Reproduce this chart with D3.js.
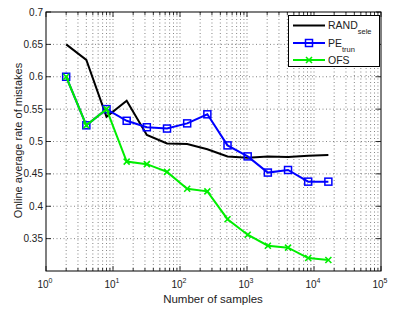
<!DOCTYPE html>
<html><head><meta charset="utf-8">
<script src="https://cdn.jsdelivr.net/npm/d3@7"></script>
<style>body{margin:0;background:#fff}svg{display:block}text{font-family:"Liberation Sans",Arial,sans-serif}</style>
</head><body><svg id="c" width="396" height="309"></svg>
<script>
const samples = [2,4,8,16,32,64,128,256,512,1024,2048,4096,8192,16384];
const randSele = [0.650,0.626,0.538,0.563,0.510,0.497,0.496,0.488,0.477,0.475,0.477,0.476,0.478,0.479];
const peTrun   = [0.600,0.525,0.550,0.532,0.522,0.520,0.528,0.542,0.494,0.477,0.452,0.456,0.438,0.438];
const ofs      = [0.600,0.525,0.550,0.469,0.465,0.453,0.427,0.423,0.380,0.356,0.339,0.336,0.320,0.317];
const yTicks = [0.35,0.4,0.45,0.5,0.55,0.6,0.65,0.7];
const xExps = [0,1,2,3,4,5];
const seriesNames = ["RAND","PE","OFS"];
const seriesSubs = ["sele","trun",""];

const svg = d3.select("#c");
const L=46,R=381,T=12,B=271;
const x = d3.scaleLog().domain([1,1e5]).range([L,R]);
const y = d3.scaleLinear().domain([0.3,0.7]).range([B,T]);

// grid
const minor=[];
for(let e=0;e<5;e++) for(let m=1;m<10;m++) minor.push(m*Math.pow(10,e));
minor.push(1e5);
const g = svg.append("g");
g.selectAll("line.vx").data(minor.filter(v=>v>1&&v<1e5)).join("line")
 .attr("x1",d=>x(d)).attr("x2",d=>x(d)).attr("y1",T).attr("y2",B)
 .attr("stroke","#666").attr("stroke-width",0.8).attr("stroke-dasharray","1,2.5");
g.selectAll("line.hy").data(yTicks.filter(v=>v<0.7)).join("line")
 .attr("x1",L).attr("x2",R).attr("y1",d=>y(d)).attr("y2",d=>y(d))
 .attr("stroke","#666").attr("stroke-width",0.8).attr("stroke-dasharray","1,2.5");

// ticks inside
const tk = svg.append("g").attr("stroke","#000").attr("stroke-width",0.8);
minor.forEach(v=>{
  const major = Math.abs(Math.log10(v)-Math.round(Math.log10(v)))<1e-9;
  const len = major?5:3;
  tk.append("line").attr("x1",x(v)).attr("x2",x(v)).attr("y1",B).attr("y2",B-len);
  tk.append("line").attr("x1",x(v)).attr("x2",x(v)).attr("y1",T).attr("y2",T+len);
});
yTicks.forEach(v=>{
  tk.append("line").attr("x1",L).attr("x2",L+5).attr("y1",y(v)).attr("y2",y(v));
  tk.append("line").attr("x1",R).attr("x2",R-5).attr("y1",y(v)).attr("y2",y(v));
});
svg.append("rect").attr("x",L).attr("y",T).attr("width",R-L).attr("height",B-T)
 .attr("fill","none").attr("stroke","#000").attr("stroke-width",1);

// tick labels
svg.selectAll("text.yt").data(yTicks).join("text")
 .attr("x",L-3).attr("y",d=>y(d)+3.5).attr("text-anchor","end").attr("font-size",10).attr("fill","#222")
 .text(d=>String(d));
xExps.forEach(e=>{
  const t = svg.append("text").attr("x",x(Math.pow(10,e))-1).attr("y",288).attr("text-anchor","middle")
   .attr("font-size",10).attr("fill","#222");
  t.append("tspan").text("10");
  t.append("tspan").attr("dy",-5).attr("font-size",7).text(e);
});
svg.append("text").attr("x",213).attr("y",302.5).attr("text-anchor","middle").attr("font-size",11.5).attr("fill","#222").text("Number of samples");
svg.append("text").attr("transform",`translate(22,${(T+B)/2-1}) rotate(-90)`).attr("text-anchor","middle")
 .attr("font-size",11).attr("fill","#222").text("Online average rate of mistakes");

// lines
const line = d3.line().x((d,i)=>x(samples[i])).y(d=>y(d));
const lines = svg.append("g");
lines.append("path").datum(randSele).attr("d",line).attr("fill","none").attr("stroke","#000").attr("stroke-width",2);
lines.append("path").datum(peTrun).attr("d",line).attr("fill","none").attr("stroke","#0000ff").attr("stroke-width",2);
lines.selectAll("rect.pe").data(peTrun).join("rect")
 .attr("x",(d,i)=>x(samples[i])-3.5).attr("y",d=>y(d)-3.5).attr("width",7).attr("height",7)
 .attr("fill","none").attr("stroke","#0000ff").attr("stroke-width",1.5);
lines.append("path").datum(ofs).attr("d",line).attr("fill","none").attr("stroke","#00ee00").attr("stroke-width",2);
const xm = (cx,cy,s)=>`M${cx-s},${cy-s}L${cx+s},${cy+s}M${cx-s},${cy+s}L${cx+s},${cy-s}`;
lines.selectAll("path.of").data(ofs).join("path")
 .attr("d",(d,i)=>xm(x(samples[i]),y(d),3)).attr("stroke","#00ee00").attr("stroke-width",1.6).attr("fill","none");

// legend
const lg = svg.append("g");
lg.append("rect").attr("x",288.5).attr("y",15.5).attr("width",91).attr("height",51)
 .attr("fill","#fff").attr("stroke","#000").attr("stroke-width",1);
const rows=[25.5,43,60];
const cols=["#000","#0000ff","#00ee00"];
rows.forEach((ry,i)=>{
  lg.append("line").attr("x1",293).attr("x2",325).attr("y1",ry).attr("y2",ry).attr("stroke",cols[i]).attr("stroke-width",2);
  if(i===1) lg.append("rect").attr("x",305.5).attr("y",ry-3.5).attr("width",7).attr("height",7).attr("fill","none").attr("stroke",cols[i]).attr("stroke-width",1.5);
  if(i===2) lg.append("path").attr("d",xm(309,ry,3)).attr("stroke",cols[i]).attr("stroke-width",1.6);
  const t = lg.append("text").attr("x",328).attr("y",ry+3.5).attr("font-size",10.5).attr("fill","#222");
  t.append("tspan").text(seriesNames[i]);
  if(seriesSubs[i]) t.append("tspan").attr("dy",5).attr("font-size",7.5).text(seriesSubs[i]);
});
</script></body></html>
